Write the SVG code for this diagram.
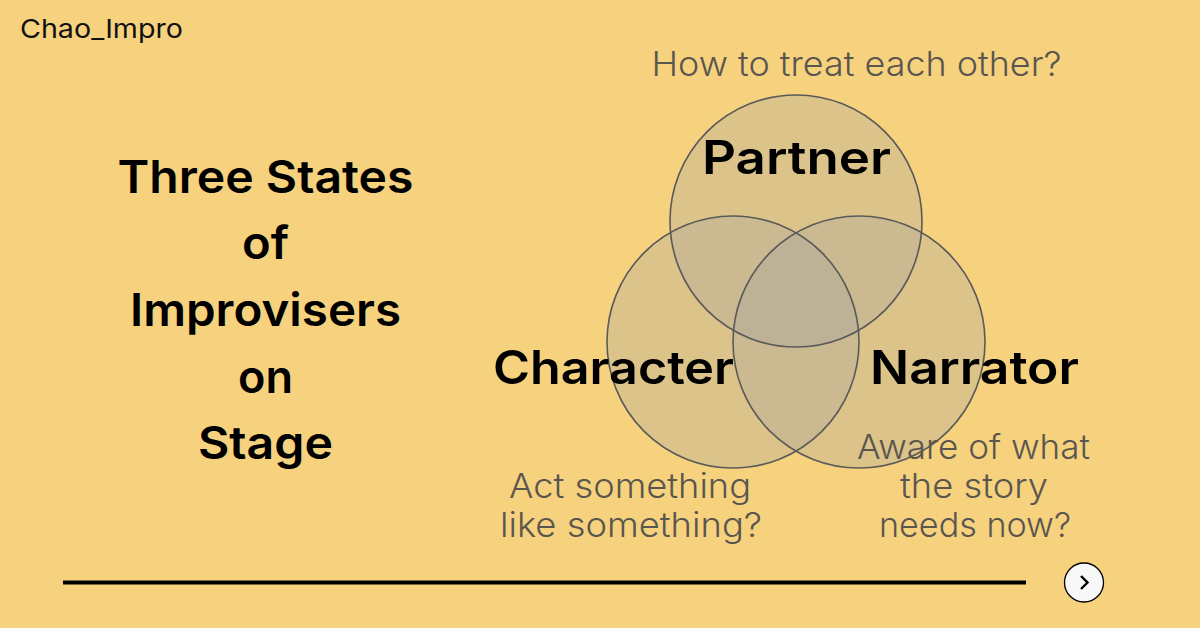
<svg xmlns="http://www.w3.org/2000/svg" width="1200" height="628" viewBox="0 0 1200 628">
<style>
text{font-family:"Inter","Noto Sans",sans-serif;text-anchor:middle}
.t{font-size:45px;font-weight:600;fill:#000}
.l{font-size:46px;font-weight:600;fill:#000}
.q{font-size:34px;font-weight:300;fill:#5a564f}
.f{fill:#a8a5a0;fill-opacity:.33}
.c{fill:none;stroke:#5a5a5a;stroke-width:1.600}
</style>
<rect width="1200" height="628" fill="#f6d27e"/>
<text x="101.500" y="38" textLength="163" lengthAdjust="spacingAndGlyphs" style="font-size:26px;font-weight:400" fill="#111">Chao_Impro</text>
<g id="title"><text class="t" x="265.500" y="193" textLength="296" lengthAdjust="spacingAndGlyphs">Three States</text><text class="t" x="265.500" y="259" textLength="47" lengthAdjust="spacingAndGlyphs">of</text><text class="t" x="265.500" y="326" textLength="271" lengthAdjust="spacingAndGlyphs">Improvisers</text><text class="t" x="265.500" y="393" textLength="55" lengthAdjust="spacingAndGlyphs">on</text><text class="t" x="265.500" y="459" textLength="135" lengthAdjust="spacingAndGlyphs">Stage</text></g>
<g id="fills"><circle class="f" cx="796" cy="221" r="126"/><circle class="f" cx="733" cy="342" r="126"/><circle class="f" cx="859" cy="342" r="126"/></g>
<g id="partner"><circle class="c" cx="796" cy="221" r="126"/><text class="l" x="796.500" y="174" textLength="189" lengthAdjust="spacingAndGlyphs">Partner</text></g>
<g id="character"><circle class="c" cx="733" cy="342" r="126"/><text class="l" x="613.500" y="384" textLength="241" lengthAdjust="spacingAndGlyphs">Character</text></g>
<g id="narrator"><circle class="c" cx="859" cy="342" r="126"/><text class="l" x="974.500" y="384" textLength="209" lengthAdjust="spacingAndGlyphs">Narrator</text></g>
<g id="questions">
<text class="q" x="856.500" y="76" textLength="410" lengthAdjust="spacingAndGlyphs">How to treat each other?</text>
<text class="q" x="630" y="498" textLength="242" lengthAdjust="spacingAndGlyphs">Act something</text><text class="q" x="631" y="537" textLength="262" lengthAdjust="spacingAndGlyphs">like something?</text>
<text class="q" x="973.500" y="459" textLength="233" lengthAdjust="spacingAndGlyphs">Aware of what</text><text class="q" x="974" y="498" textLength="148" lengthAdjust="spacingAndGlyphs">the story</text><text class="q" x="975" y="537" textLength="192" lengthAdjust="spacingAndGlyphs">needs now?</text>
</g>
<g id="connectors"><line x1="63" y1="582.500" x2="1026" y2="582.500" stroke="#000" stroke-width="4"/></g>
<g id="next"><circle cx="1084" cy="582.500" r="19.500" fill="#f8f8f8" stroke="#000" stroke-width="1.300"/><path d="M1081 576l6.500 6.500-6.500 6.500" fill="none" stroke="#000" stroke-width="2.400"/></g>
</svg>
